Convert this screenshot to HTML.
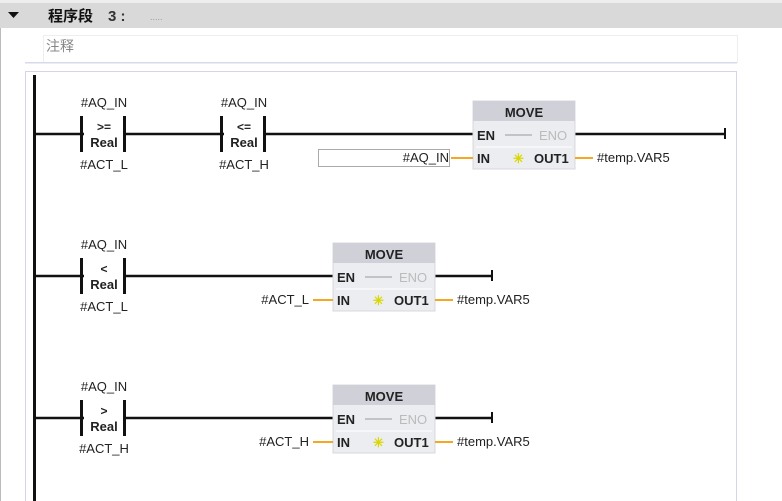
<!DOCTYPE html>
<html><head><meta charset="utf-8"><style>
body{margin:0;width:782px;height:501px;overflow:hidden;background:#fff;position:relative;font-family:"Liberation Sans","Noto Sans CJK SC",sans-serif}
</style></head><body>
<svg width="782" height="501" xmlns="http://www.w3.org/2000/svg" style="position:absolute;left:0;top:0" font-family="Liberation Sans, Noto Sans CJK SC, sans-serif">
<rect x="0" y="0" width="782" height="501" fill="#fff"/>
<rect x="0" y="0" width="782" height="3" fill="#eeeeee"/>
<rect x="0" y="3" width="782" height="25" fill="#d9d9d9"/>
<rect x="0" y="28" width="1" height="473" fill="#bbb"/>
<polygon points="8,12 19,12 13.5,18" fill="#111"/>
<text x="48" y="21" font-size="15" font-weight="bold" fill="#111">程序段</text>
<text x="108" y="21" font-size="15" font-weight="bold" fill="#333">3 :</text>
<text x="150" y="20" font-size="9" fill="#999">.....</text>
<rect x="43.5" y="35.5" width="694" height="27" fill="#fff" stroke="#eee"/>
<text x="46" y="51" font-size="14" fill="#888">注释</text>
<rect x="25" y="62" width="712" height="1.5" fill="#d8d8ee"/>
<rect x="25.5" y="71.5" width="711" height="440" fill="#fff" stroke="#d4d4ea"/>
<rect x="33" y="75" width="3" height="426" fill="#111"/>
<g font-size="13" fill="#222" text-anchor="middle">
<line x1="35" y1="134" x2="725" y2="134" stroke="#111" stroke-width="2.5"/>
<line x1="725" y1="128" x2="725" y2="139" stroke="#111" stroke-width="2"/>
<rect x="84" y="115" width="40" height="38" fill="#fff"/>
<rect x="224" y="115" width="40" height="38" fill="#fff"/>
<rect x="80" y="116" width="3" height="36" fill="#111"/><rect x="123" y="116" width="3" height="36" fill="#111"/>
<rect x="220" y="116" width="3" height="36" fill="#111"/><rect x="263" y="116" width="3" height="36" fill="#111"/>
<text x="104" y="107">#AQ_IN</text><text x="104" y="131" font-size="12" font-weight="bold">&gt;=</text><text x="104" y="147" font-weight="bold">Real</text><text x="104" y="169">#ACT_L</text>
<text x="244" y="107">#AQ_IN</text><text x="244" y="131" font-size="12" font-weight="bold">&lt;=</text><text x="244" y="147" font-weight="bold">Real</text><text x="244" y="169">#ACT_H</text>
<line x1="35" y1="276" x2="492" y2="276" stroke="#111" stroke-width="2.5"/>
<line x1="492" y1="270" x2="492" y2="281" stroke="#111" stroke-width="2"/>
<rect x="84" y="257" width="40" height="38" fill="#fff"/>
<rect x="80" y="258" width="3" height="36" fill="#111"/><rect x="123" y="258" width="3" height="36" fill="#111"/>
<text x="104" y="249">#AQ_IN</text><text x="104" y="273" font-size="12" font-weight="bold">&lt;</text><text x="104" y="289" font-weight="bold">Real</text><text x="104" y="311">#ACT_L</text>
<line x1="35" y1="418" x2="492" y2="418" stroke="#111" stroke-width="2.5"/>
<line x1="492" y1="412" x2="492" y2="423" stroke="#111" stroke-width="2"/>
<rect x="84" y="399" width="40" height="38" fill="#fff"/>
<rect x="80" y="400" width="3" height="36" fill="#111"/><rect x="123" y="400" width="3" height="36" fill="#111"/>
<text x="104" y="391">#AQ_IN</text><text x="104" y="415" font-size="12" font-weight="bold">&gt;</text><text x="104" y="431" font-weight="bold">Real</text><text x="104" y="453">#ACT_H</text>
</g>
<g id="m1" transform="translate(473,101)">
<rect x="0" y="0" width="102" height="68" fill="#ecedf0" stroke="#d8d8dc"/>
<rect x="0" y="0" width="102" height="20" fill="#cfd0d8"/>
<text x="51" y="16" font-size="13" font-weight="bold" text-anchor="middle" fill="#222">MOVE</text>
<text x="4" y="39" font-size="13" font-weight="bold" fill="#222">EN</text>
<line x1="32" y1="34" x2="59" y2="34" stroke="#999" stroke-width="1"/>
<text x="66" y="39" font-size="13" fill="#bbb">ENO</text>
<line x1="3" y1="46" x2="99" y2="46" stroke="#fff" stroke-width="1"/>
<text x="4" y="62" font-size="13" font-weight="bold" fill="#222">IN</text>
<text x="40" y="62" font-size="13" fill="#d8d800" font-weight="bold">✳</text>
<text x="61" y="62" font-size="13" font-weight="bold" fill="#222">OUT1</text>
</g>
<line x1="451" y1="158" x2="473" y2="158" stroke="#f5a623" stroke-width="2"/>
<line x1="575" y1="158" x2="593" y2="158" stroke="#f5a623" stroke-width="2"/>
<rect x="318.5" y="149.5" width="131" height="17" fill="#fff" stroke="#555" stroke-dasharray="1,1"/>
<text x="449" y="162" font-size="13" fill="#222" text-anchor="end">#AQ_IN</text>
<text x="597" y="162" font-size="13" fill="#222">#temp.VAR5</text>
<use href="#m1" transform="translate(-140,142)"/>
<line x1="313" y1="300" x2="333" y2="300" stroke="#f5a623" stroke-width="2"/>
<line x1="435" y1="300" x2="453" y2="300" stroke="#f5a623" stroke-width="2"/>
<text x="309" y="304" font-size="13" fill="#222" text-anchor="end">#ACT_L</text>
<text x="457" y="304" font-size="13" fill="#222">#temp.VAR5</text>
<use href="#m1" transform="translate(-140,284)"/>
<line x1="313" y1="442" x2="333" y2="442" stroke="#f5a623" stroke-width="2"/>
<line x1="435" y1="442" x2="453" y2="442" stroke="#f5a623" stroke-width="2"/>
<text x="309" y="446" font-size="13" fill="#222" text-anchor="end">#ACT_H</text>
<text x="457" y="446" font-size="13" fill="#222">#temp.VAR5</text>
</svg>
</body></html>
